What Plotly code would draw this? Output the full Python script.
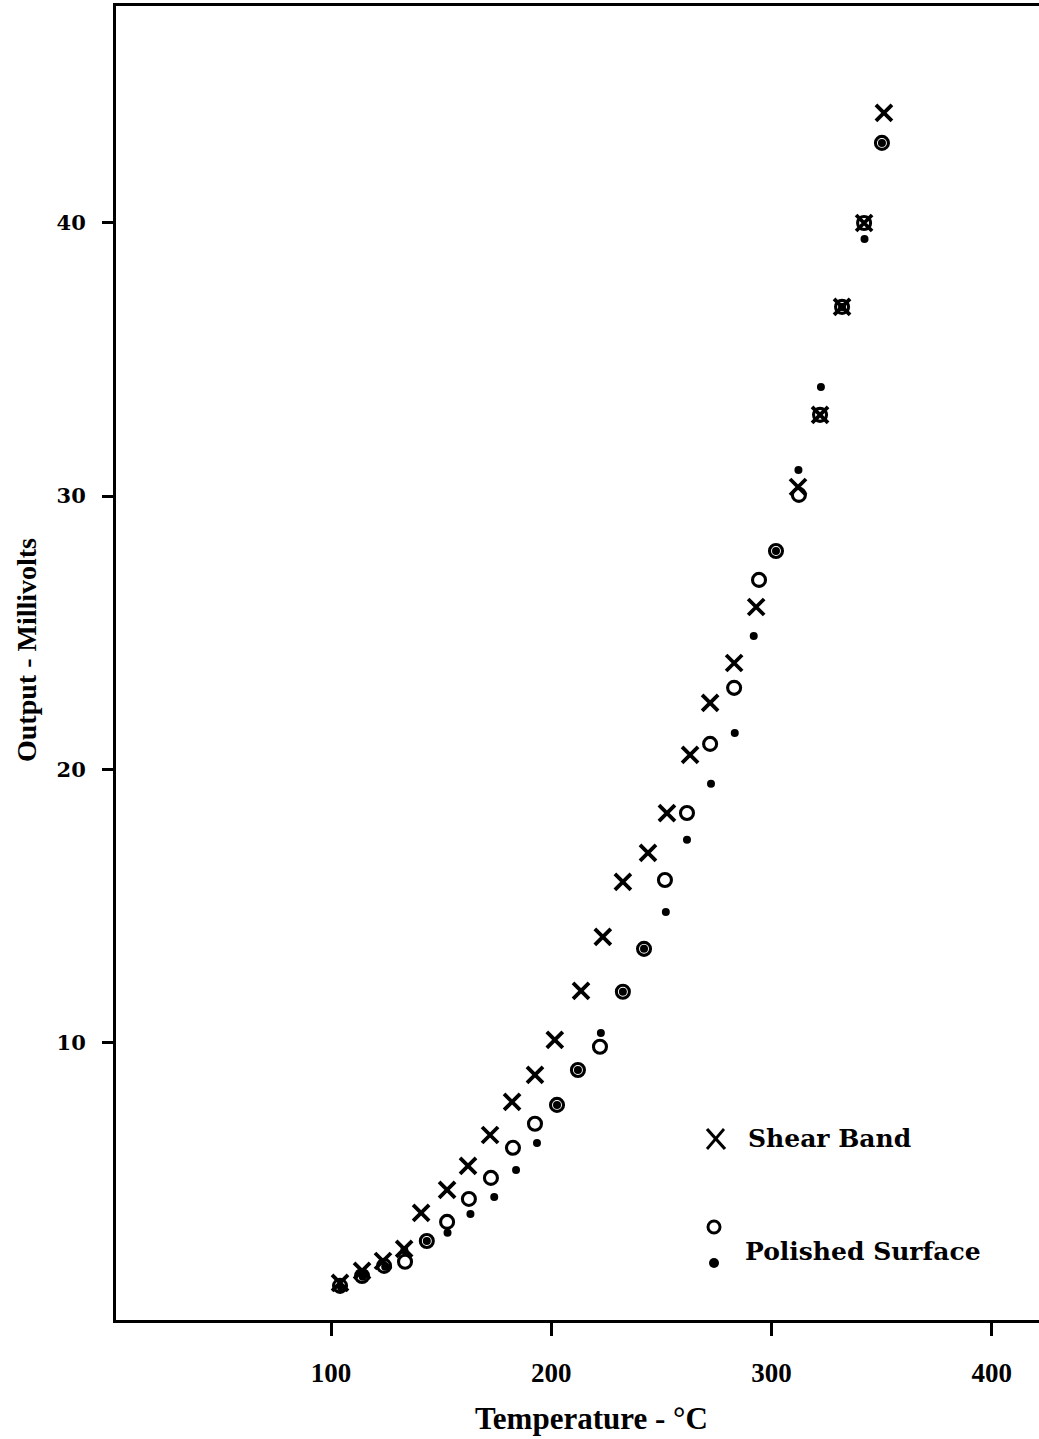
import plotly.graph_objects as go

# ---- data ----
shear_temp = [104.1, 114.1, 123.6, 133.2, 140.9, 152.7, 162.2, 172.2, 182.2, 192.6,
              201.6, 213.5, 223.4, 232.5, 243.9, 252.5, 263.0, 272.1, 283.0, 293.0,
              312.0, 322.0, 332.0, 342.0, 351.0]
shear_mv = [1.21, 1.65, 2.01, 2.45, 3.77, 4.61, 5.49, 6.62, 7.83, 8.82,
            10.10, 11.89, 13.87, 15.88, 16.94, 18.40, 20.53, 22.43, 23.89, 25.94,
            30.33, 32.97, 36.92, 39.99, 44.02]

open_temp = [104.1, 114.1, 124.1, 133.6, 143.5, 152.7, 162.6, 172.6, 182.6, 192.6,
             202.6, 212.1, 222.1, 232.5, 242.1, 251.6, 261.6, 272.1, 283.0, 294.3,
             302.0, 312.4, 322.0, 332.0, 342.0, 350.1]
open_mv = [1.10, 1.46, 1.83, 1.98, 2.74, 3.44, 4.28, 5.05, 6.15, 7.03,
           7.72, 9.00, 9.85, 11.86, 13.43, 15.95, 18.40, 20.93, 22.98, 26.93,
           27.99, 30.04, 32.97, 36.92, 39.99, 42.92]

dot_temp = [104.6, 114.4, 124.6, 133.3, 143.5, 152.9, 163.3, 174.1, 184.0, 193.5,
            202.6, 212.1, 222.5, 232.5, 242.1, 252.0, 261.6, 272.5, 283.3, 291.9,
            302.0, 312.2, 322.4, 332.0, 342.2, 350.1]
dot_mv = [1.04, 1.43, 1.80, 2.40, 2.74, 3.04, 3.73, 4.35, 5.34, 6.33,
          7.72, 9.00, 10.35, 11.86, 13.43, 14.78, 17.42, 19.47, 21.33, 24.88,
          27.99, 30.95, 33.99, 36.92, 39.40, 42.92]

x_ticks = [100, 200, 300, 400]
y_ticks = [10, 20, 30, 40]

fig = go.Figure()
fig.add_trace(go.Scatter(x=dot_temp, y=dot_mv, mode="markers",
                         marker=dict(symbol="circle", size=8, color="black",
                                     line=dict(width=0)),
                         showlegend=False))
fig.add_trace(go.Scatter(x=open_temp, y=open_mv, mode="markers",
                         marker=dict(symbol="circle-open", size=13, color="black",
                                     line=dict(width=3.1, color="black")),
                         showlegend=False))
fig.add_trace(go.Scatter(x=shear_temp, y=shear_mv, mode="markers",
                         marker=dict(symbol="x-thin-open", size=16, color="black",
                                     line=dict(width=3.8, color="black")),
                         showlegend=False))

W, H = 1039, 1439
ml, mr, mt, mb = 116, 0, 6, 119
pw, ph = W - ml - mr, H - mt - mb


def px(xp):
    return (xp - ml) / pw


def py(yp):
    return (H - mb - yp) / ph


shapes = []
# legend X
shapes.append(dict(type="line", xref="paper", yref="paper",
                   x0=px(707), x1=px(725), y0=py(1129), y1=py(1149),
                   line=dict(color="black", width=3.2)))
shapes.append(dict(type="line", xref="paper", yref="paper",
                   x0=px(707), x1=px(724), y0=py(1149), y1=py(1129),
                   line=dict(color="black", width=2.8)))
# legend open circle
shapes.append(dict(type="circle", xref="paper", yref="paper",
                   x0=px(708), x1=px(720), y0=py(1221), y1=py(1233),
                   line=dict(color="black", width=3)))
# legend dot
shapes.append(dict(type="circle", xref="paper", yref="paper",
                   x0=px(709), x1=px(719), y0=py(1258), y1=py(1268),
                   fillcolor="black", line=dict(color="black", width=0)))

legend_font = dict(family="DejaVu Serif", size=25, color="black")
annotations = [
    dict(text="<b>Shear Band</b>", xref="paper", yref="paper",
         x=px(746), y=py(1138), xanchor="left", yanchor="middle",
         showarrow=False, font=legend_font),
    dict(text="<b>Polished Surface</b>", xref="paper", yref="paper",
         x=px(743), y=py(1251), xanchor="left", yanchor="middle",
         showarrow=False, font=legend_font),
    dict(text="<b>Temperature - °C</b>", xref="paper", yref="paper",
         x=px(591), y=py(1418), xanchor="center", yanchor="middle",
         showarrow=False,
         font=dict(family="Liberation Serif", size=31, color="black")),
    dict(text="<b>Output - Millivolts</b>", xref="paper", yref="paper",
         x=px(26), y=py(650), xanchor="center", yanchor="middle",
         textangle=-90, showarrow=False,
         font=dict(family="Liberation Serif", size=28, color="black")),
]

fig.update_layout(
    width=W, height=H,
    margin=dict(l=ml, r=mr, t=mt, b=mb, pad=0),
    paper_bgcolor="white", plot_bgcolor="white",
    shapes=shapes, annotations=annotations,
    showlegend=False,
)
fig.update_xaxes(range=[2.4, 421.4], tickvals=x_ticks,
                 ticktext=[f"<b>{v}</b>" for v in x_ticks],
                 showgrid=False, zeroline=False,
                 showline=True, linecolor="black", linewidth=3, mirror=True,
                 ticks="outside", ticklen=13, tickwidth=2.5, tickcolor="black",
                 ticklabelstandoff=14,
                 tickfont=dict(family="Liberation Serif", size=27, color="black"))
fig.update_yaxes(range=[-0.15, 47.93], tickvals=y_ticks,
                 ticktext=[f"<b>{v}</b>" for v in y_ticks],
                 showgrid=False, zeroline=False,
                 showline=True, linecolor="black", linewidth=3, mirror=False,
                 ticks="outside", ticklen=11, tickwidth=2.5, tickcolor="black",
                 ticklabelstandoff=12,
                 tickfont=dict(family="DejaVu Serif", size=21, color="black"))

fig.write_html("out.html", config={"displayModeBar": False})
